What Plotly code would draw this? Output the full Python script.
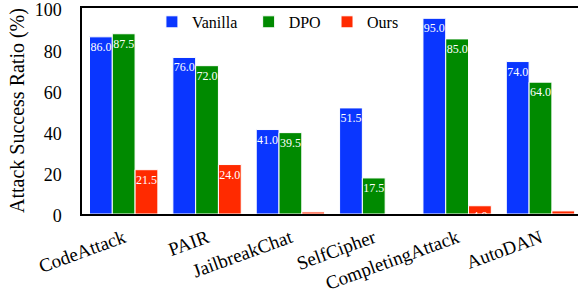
import plotly.graph_objects as go

categories = ["CodeAttack", "PAIR", "JailbreakChat", "SelfCipher", "CompletingAttack", "AutoDAN"]
vanilla = [86.0, 76.0, 41.0, 51.5, 95.0, 74.0]
dpo = [87.5, 72.0, 39.5, 17.5, 85.0, 64.0]
ours = [21.5, 24.0, 1.0, 0.0, 4.0, 1.5]
ours_labels = ["21.5", "24.0", "", "", "4.0", ""]

colors = {"Vanilla": "#0a36ff", "DPO": "#008a00", "Ours": "#ff2a00"}
FONT = "Times New Roman, Liberation Serif, serif"

fig = go.Figure()
series = [
    ("Vanilla", vanilla, [f"{v:.1f}" for v in vanilla], "legend", 0.141),
    ("DPO", dpo, [f"{v:.1f}" for v in dpo], "legend2", 0.336),
    ("Ours", ours, ours_labels, "legend3", 0.494),
]
for name, vals, labels, lg, lx in series:
    fig.add_trace(go.Bar(
        name=name, x=categories, y=vals, text=labels,
        textposition="inside", insidetextanchor="end",
        textfont=dict(family=FONT, size=12, color="white"),
        marker=dict(color=colors[name], line=dict(color="white", width=1)),
        textangle=0, constraintext="none", legend=lg,
    ))

legend_common = dict(orientation="h", y=1.015, xanchor="left", yanchor="top",
                     font=dict(family=FONT, size=16), bgcolor="rgba(255,255,255,0)")
fig.update_layout(
    width=578, height=293,
    margin=dict(l=82, r=0, t=8, b=79, autoexpand=False),
    barmode="group", bargap=0.18, bargroupgap=0.0,
    plot_bgcolor="white", paper_bgcolor="white",
    font=dict(family=FONT, size=18, color="black"),
    uniformtext=dict(minsize=12, mode="show"),
    legend=dict(x=series[0][4], **legend_common),
    legend2=dict(x=series[1][4], **legend_common),
    legend3=dict(x=series[2][4], **legend_common),
    showlegend=True,
)
fig.update_xaxes(range=[-0.5, 5.45], showline=True, linecolor="black", linewidth=1.5,
                 mirror=True, tickangle=-20, tickfont=dict(family=FONT, size=19),
                 ticklabelstandoff=4, ticks="", automargin=False, ticklabeloverflow="allow")
fig.update_yaxes(range=[0, 100], showline=True, linecolor="black", linewidth=1.5,
                 showgrid=False, zeroline=False, tickvals=[0, 20, 40, 60, 80, 100],
                 tickfont=dict(family=FONT, size=18), ticks="", automargin=False,
                 ticklabelstandoff=15, ticklabelshift=2, ticklabeloverflow="allow")
fig.add_annotation(text="Attack Success Ratio (%)", textangle=-90, xref="paper", yref="paper",
                   x=(17 - 82) / 496, y=0.5, showarrow=False, xanchor="center", yanchor="middle",
                   font=dict(family=FONT, size=20))

fig.write_html("out.html", config={"displayModeBar": False},
               post_script="document.body.style.margin='0';")
